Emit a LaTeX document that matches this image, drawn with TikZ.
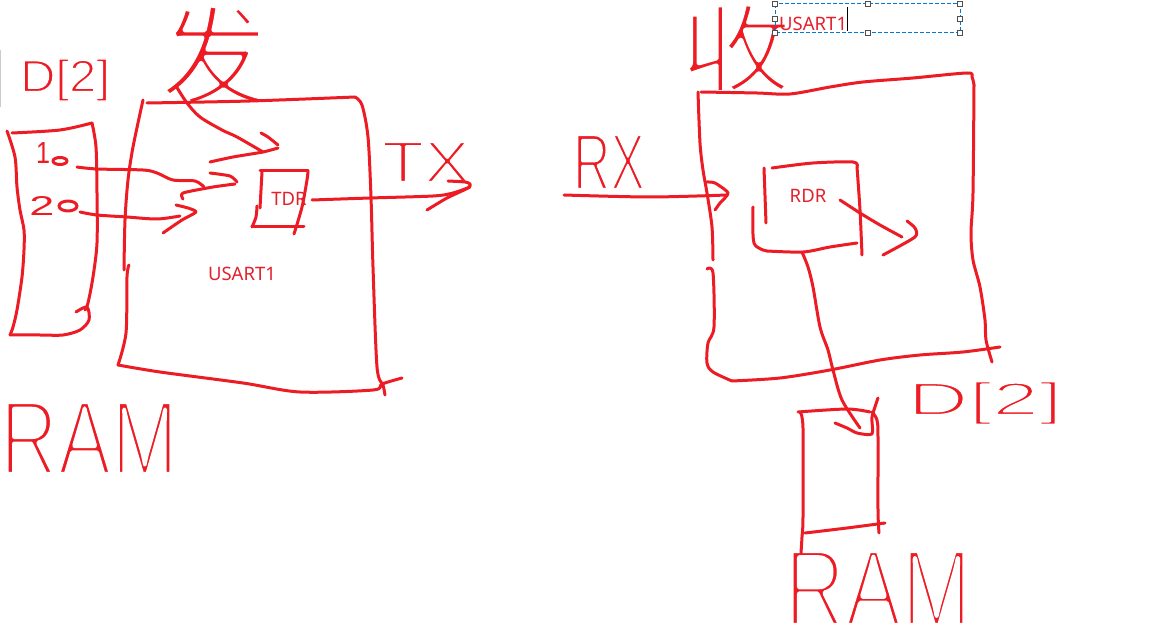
\documentclass[tikz,border=0pt]{standalone}
\usepackage{fontspec}
\usepackage{graphicx}
\setmainfont{Noto Sans}
\newfontfamily\hw{Liberation Sans}
\newfontfamily\cjk{Noto Sans CJK SC}
\definecolor{pred}{HTML}{ED1C24}
\definecolor{tred}{HTML}{E3202C}
\definecolor{selblue}{HTML}{0078D7}
\definecolor{hgray}{HTML}{505050}
% thin the ink of a glyph run by stroking its outline in white
\newcommand{\thinink}[2]{\special{pdf:code 1 1 1 RG 1 j #1 w 2 Tr}#2\special{pdf:code 0 Tr}}
\begin{document}
\begin{tikzpicture}[x=1pt,y=-1pt,
  pen/.style={draw=pred,line width=3pt,line cap=round,line join=round},
  hand/.style={inner sep=0pt,text=pred},
  typed/.style={inner sep=0pt,text=tred,font=\fontsize{18.5}{20}\selectfont},
  handle/.style={draw=hgray,fill=white,line width=1pt,minimum size=4.5pt,inner sep=0pt}]
\useasboundingbox (0,0) rectangle (1168,636);
\fill[white] (0,0) rectangle (1168,636);
\fill[gray!40] (0,50) rectangle (1.2,107);

% ---------- handwritten labels (under the strokes) ----------
\node[hand] (dl) at (65,80) {\resizebox*{90pt}{42pt}{\thinink{0.3}{\hw D[2]}}};
\node[hand] (n1) at (43,153) {\resizebox*{14pt}{21pt}{\hw 1}};
\node[hand] (n2) at (42,206) {\resizebox*{25pt}{19pt}{\hw 2}};
\node[hand] (lram) at (89,438) {\resizebox*{178pt}{73pt}{\thinink{0.5}{\hw RAM}}};
\node[hand] (fa) at (214,55) {\resizebox*{108pt}{100pt}{\thinink{0.42}{\cjk 发}}};
\node[hand] (tx) at (426,162) {\resizebox*{88pt}{40pt}{\thinink{0.42}{\hw TX}}};
\node[hand] (rx) at (609,162) {\resizebox*{72pt}{55pt}{\thinink{0.42}{\hw RX}}};
\node[hand] (shou) at (736,48) {\resizebox*{112pt}{88pt}{\thinink{0.42}{\cjk 收}}};
\node[hand] (rd2) at (985,403) {\resizebox*{155pt}{43pt}{\thinink{0.42}{\hw D[2]}}};
\node[hand] (rram) at (878,588) {\resizebox*{187pt}{76pt}{\thinink{0.55}{\hw RAM}}};

% ---------- left RAM box ----------
\draw[pen] plot[smooth,tension=0.5] coordinates {(12,133) (60,130) (92,123)};
\draw[pen] plot[smooth,tension=0.5] coordinates {(7,131) (15,157) (17,187) (20,210) (24,230) (24,250) (22,277) (17,310) (13,327) (10,335)};
\draw[pen] plot[smooth,tension=0.5] coordinates {(10,335) (40,335) (63,335) (80,330) (89,320) (87,307) (76,312)};
\draw[pen] plot[smooth,tension=0.5] coordinates {(92,123) (96,147) (97,193) (97,243) (93,277) (88,303) (85,310)};
\draw[pen] (60,161) ellipse[x radius=7,y radius=3.5];
\draw[pen] (68,206) ellipse[x radius=9,y radius=5];

% ---------- left USART1 box ----------
\draw[pen] plot[smooth,tension=0.5] coordinates {(147,103) (250,101) (355,97)};
\draw[pen] plot[smooth,tension=0.5] coordinates {(143,100) (133,147) (128,180) (125,220) (124,270)};
\draw[pen] plot[smooth,tension=0.5] coordinates {(129,265) (127,277) (126,333) (118,365)};
\draw[pen] plot[smooth,tension=0.5] coordinates {(355,97) (362,105) (368,137) (371,197) (373,267) (377,367) (383,385) (385,395)};
\draw[pen] plot[smooth,tension=0.5] coordinates {(118,365) (160,372) (243,383) (300,392) (373,390) (382,384) (402,378)};
\node[typed] (usart1) at (242,274) {USART1};

% sweep arrow of 发 into TDR
\draw[pen] plot[smooth,tension=0.5] coordinates {(176,86) (187,103) (200,117) (222,130) (237,137) (263,152)};
\draw[pen] plot[smooth,tension=0.4] coordinates {(261,133) (268,137) (278,145)};
\draw[pen] plot[smooth,tension=0.4] coordinates {(278,148) (263,152) (233,157) (210,162)};

% arrows 1 and 2
\draw[pen] plot[smooth,tension=0.5] coordinates {(77,167) (97,169) (143,170) (157,173) (173,180) (195,181) (204,187)};
\draw[pen] plot[smooth,tension=0.4] coordinates {(210,173) (230,176) (237,182)};
\draw[pen] plot[smooth,tension=0.4] coordinates {(235,184) (213,187) (183,193) (183,199)};
\draw[pen] plot[smooth,tension=0.5] coordinates {(80,212) (97,215) (127,217) (157,219) (180,216)};
\draw[pen] plot[smooth,tension=0.4] coordinates {(176,205) (188,208) (196,212) (182,220) (163,233)};

% TDR box
\draw[pen] (260,171) -- (308,171);
\draw[pen] plot[smooth,tension=0.5] coordinates {(308,171) (307,180) (302,207) (294,234)};
\draw[pen] (262,172) -- (260,208);
\draw[pen] plot[smooth,tension=0.5] coordinates {(257,206) (256,217) (252,227)};
\draw[pen] (252,227) -- (304,227);
\node[typed] (tdr) at (289,199) {TDR};

% TX arrow
\draw[pen] plot[smooth,tension=0.5] coordinates {(312,200) (370,198) (433,196) (453,193) (470,187)};
\draw[pen] plot[smooth,tension=0.4] coordinates {(448,181) (465,182) (470,184) (468,188) (447,198) (427,210)};

% ---------- right side ----------
\draw[pen] plot[smooth,tension=0.5] coordinates {(564,195) (650,197) (727,195)};
\draw[pen] plot[smooth,tension=0.4] coordinates {(707,182) (715,183) (728,193) (720,203) (715,210)};

% right USART1 box
\draw[pen] plot[smooth,tension=0.5] coordinates {(701,92) (757,93) (790,94) (830,87) (863,82) (913,78) (967,73) (972,77) (974,85)};
\draw[pen] plot[smooth,tension=0.5] coordinates {(698,92) (700,143) (703,170) (707,193) (712,227) (713,260)};
\draw[pen] plot[smooth,tension=0.5] coordinates {(707,269) (713,273) (714,327) (708,343) (707,363) (713,372) (732,381)};
\draw[pen] plot[smooth,tension=0.5] coordinates {(974,85) (973,193) (971,233) (973,260) (980,287) (985,320) (986,340) (992,362)};
\draw[pen] plot[smooth,tension=0.5] coordinates {(732,381) (780,378) (830,370) (880,360) (920,355) (963,352) (1000,347)};

% RDR box
\draw[pen] plot[smooth,tension=0.5] coordinates {(772,168) (813,163) (853,162) (857,167)};
\draw[pen] plot[smooth,tension=0.5] coordinates {(857,167) (860,210) (862,255)};
\draw[pen] (764,168) -- (766,223);
\draw[pen] plot[smooth,tension=0.5] coordinates {(753,207) (754,243) (767,251)};
\draw[pen] plot[smooth,tension=0.5] coordinates {(767,251) (803,252) (830,247) (857,243)};
\node[typed] (rdr) at (808,196) {RDR};
\draw[pen] plot[smooth,tension=0.5] coordinates {(840,200) (860,213) (880,225) (902,237)};
\draw[pen] plot[smooth,tension=0.4] coordinates {(907,221) (915,228) (915,237) (883,255)};

% line from RDR down to RAM
\draw[pen] plot[smooth,tension=0.5] coordinates {(802,252) (808,267) (813,287) (820,327) (828,350) (833,370) (842,400) (860,428)};
\draw[pen] plot[smooth,tension=0.4] coordinates {(835,423) (847,428) (857,433) (872,434) (872,417) (878,398)};

% right RAM box
\draw[pen] plot[smooth,tension=0.5] coordinates {(798,412) (847,409) (870,412)};
\draw[pen] plot[smooth,tension=0.5] coordinates {(800,412) (803,428) (803,517) (802,537) (801,553)};
\draw[pen] plot[smooth,tension=0.5] coordinates {(872,412) (877,420) (878,437) (878,510) (879,533)};
\draw[pen] plot[smooth,tension=0.5] coordinates {(805,533) (847,528) (885,523)};

% text box being edited
\draw[selblue,line width=1pt,dash pattern=on 4pt off 2pt] (775,4) rectangle (960,33);
\foreach \x/\y [count=\i] in {775/4,868/4,960/4,775/19,960/19,775/33,868/33,960/33}
  \node[handle] (h\i) at (\x,\y) {};
\node[typed,anchor=base west] (usart1b) at (779,31) {USART1};
\draw[black,line width=1pt] (847,7) -- (847,31);
\end{tikzpicture}
\end{document}
